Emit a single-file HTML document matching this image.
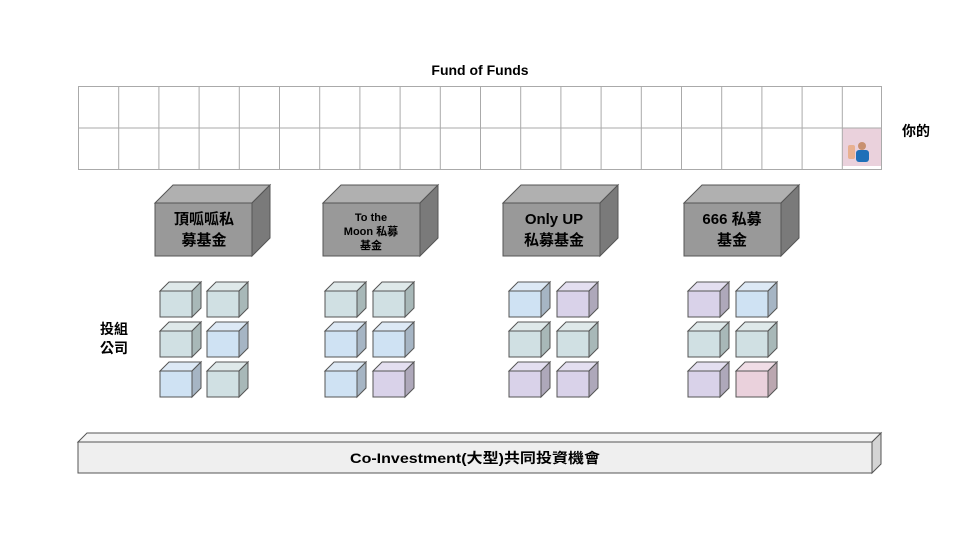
<!DOCTYPE html>
<html><head><meta charset="utf-8"><style>
body{margin:0;background:#fff}
svg{display:block}
text{font-family:"Liberation Sans","Noto Sans CJK TC",sans-serif;font-weight:bold;fill:#000}
</style></head><body>
<svg width="960" height="540" viewBox="0 0 960 540" xmlns="http://www.w3.org/2000/svg">
<text x="480" y="75" font-size="14" text-anchor="middle">Fund of Funds</text>
<rect x="842" y="128" width="40" height="38" fill="#ead1dc"/>
<g stroke="#aaa" stroke-width="1" fill="none">
<rect x="78.5" y="86.5" width="803" height="83"/>
<line x1="78" y1="128" x2="882" y2="128"/>
</g>
<g stroke="#aaa">
<line x1="118.7" y1="86" x2="118.7" y2="169"/><line x1="158.9" y1="86" x2="158.9" y2="169"/><line x1="199.1" y1="86" x2="199.1" y2="169"/><line x1="239.3" y1="86" x2="239.3" y2="169"/><line x1="279.5" y1="86" x2="279.5" y2="169"/><line x1="319.7" y1="86" x2="319.7" y2="169"/><line x1="359.9" y1="86" x2="359.9" y2="169"/><line x1="400.1" y1="86" x2="400.1" y2="169"/><line x1="440.3" y1="86" x2="440.3" y2="169"/><line x1="480.5" y1="86" x2="480.5" y2="169"/><line x1="520.7" y1="86" x2="520.7" y2="169"/><line x1="560.9" y1="86" x2="560.9" y2="169"/><line x1="601.1" y1="86" x2="601.1" y2="169"/><line x1="641.3" y1="86" x2="641.3" y2="169"/><line x1="681.5" y1="86" x2="681.5" y2="169"/><line x1="721.7" y1="86" x2="721.7" y2="169"/><line x1="761.9" y1="86" x2="761.9" y2="169"/><line x1="802.1" y1="86" x2="802.1" y2="169"/><line x1="842.3" y1="86" x2="842.3" y2="169"/>
</g>
<!-- person icon -->
<circle cx="862" cy="146" r="4" fill="#c89070"/>
<rect x="856" y="150" width="13" height="12" rx="3" fill="#1e6fb8"/>
<rect x="848" y="145" width="7" height="14" rx="2" fill="#e8b090"/>
<text x="902" y="136" font-size="14">你的</text>

<g stroke="#555" stroke-width="1">
<g id="b1"><polygon points="155,203 173,185 270,185 252,203" fill="#b0b0b0"/><polygon points="252,203 270,185 270,238 252,256" fill="#7a7a7a"/><rect x="155" y="203" width="97" height="53" fill="#999"/></g>
<use href="#b1" x="168"/><use href="#b1" x="348"/><use href="#b1" x="529"/>
<polygon points="78,442 87,433 881,433 872,442" fill="#f3f3f3"/>
<polygon points="872,442 881,433 881,464 872,473" fill="#d4d4d4"/>
<rect x="78" y="442" width="794" height="31" fill="#efefef"/>
</g>
<g stroke="#555" stroke-width="1">
<defs>
<g id="cg"><polygon points="0,9 9,0 41,0 32,9" fill="#dfe9ea"/><polygon points="32,9 41,0 41,26 32,35" fill="#a8b8b8"/><rect x="0" y="9" width="32" height="26" fill="#d0e0e3"/></g>
<g id="cb"><polygon points="0,9 9,0 41,0 32,9" fill="#dde9f5"/><polygon points="32,9 41,0 41,26 32,35" fill="#a6b5c4"/><rect x="0" y="9" width="32" height="26" fill="#cfe2f3"/></g>
<g id="cp"><polygon points="0,9 9,0 41,0 32,9" fill="#e4dff0"/><polygon points="32,9 41,0 41,26 32,35" fill="#aea8ba"/><rect x="0" y="9" width="32" height="26" fill="#d9d2e9"/></g>
<g id="ck"><polygon points="0,9 9,0 41,0 32,9" fill="#f0dde6"/><polygon points="32,9 41,0 41,26 32,35" fill="#bba7b0"/><rect x="0" y="9" width="32" height="26" fill="#ead1dc"/></g>
</defs>
<use href="#cg" x="160" y="282"/><use href="#cg" x="207" y="282"/>
<use href="#cg" x="160" y="322"/><use href="#cb" x="207" y="322"/>
<use href="#cb" x="160" y="362"/><use href="#cg" x="207" y="362"/>
<use href="#cg" x="325" y="282"/><use href="#cg" x="373" y="282"/>
<use href="#cb" x="325" y="322"/><use href="#cb" x="373" y="322"/>
<use href="#cb" x="325" y="362"/><use href="#cp" x="373" y="362"/>
<use href="#cb" x="509" y="282"/><use href="#cp" x="557" y="282"/>
<use href="#cg" x="509" y="322"/><use href="#cg" x="557" y="322"/>
<use href="#cp" x="509" y="362"/><use href="#cp" x="557" y="362"/>
<use href="#cp" x="688" y="282"/><use href="#cb" x="736" y="282"/>
<use href="#cg" x="688" y="322"/><use href="#cg" x="736" y="322"/>
<use href="#cp" x="688" y="362"/><use href="#ck" x="736" y="362"/>
</g>
<g font-size="15" text-anchor="middle">
<text x="204" y="224">頂呱呱私</text><text x="204" y="245">募基金</text>
<text x="554" y="224">Only UP</text><text x="554" y="245">私募基金</text>
<text x="732" y="224">666 私募</text><text x="732" y="245">基金</text>
</g>
<g font-size="11" text-anchor="middle">
<text x="371" y="221">To the</text><text x="371" y="235">Moon 私募</text><text x="371" y="249">基金</text>
</g>
<text x="100" y="334" font-size="14">投組</text>
<text x="100" y="353" font-size="14">公司</text>
<text x="475" y="463" font-size="14" text-anchor="middle" textLength="250" lengthAdjust="spacingAndGlyphs">Co-Investment(大型)共同投資機會</text>
</svg>
</body></html>
